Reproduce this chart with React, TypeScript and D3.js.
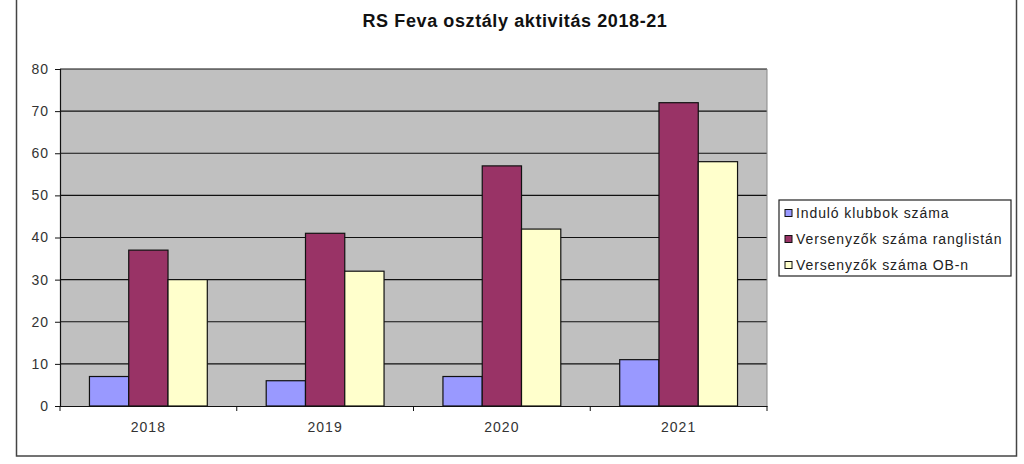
import React, { useRef, useEffect } from 'react';
import * as d3 from 'd3';

const years = ['2018', '2019', '2020', '2021'];
const seriesNames = ['Induló klubbok száma', 'Versenyzők száma ranglistán', 'Versenyzők száma OB-n'];
const klubbok = [7, 6, 7, 11];
const ranglista = [37, 41, 57, 72];
const obn = [30, 32, 42, 58];
const yTicks = [0, 10, 20, 30, 40, 50, 60, 70, 80];
const colors = ['#9999FF', '#993366', '#FFFFCC'];

const App = () => {
  const svgRef = useRef<SVGSVGElement>(null);

  useEffect(() => {
    const svg = d3.select(svgRef.current);
    svg.selectAll('*').remove();
    const font = 'Liberation Sans, Arial, sans-serif';
    const values = [klubbok, ranglista, obn];

    // outer frame
    svg.append('rect')
      .attr('x', 16.5).attr('y', -10).attr('width', 1000).attr('height', 466)
      .attr('fill', 'white').attr('stroke', '#444').attr('stroke-width', 1.5);

    svg.append('text')
      .attr('x', 515).attr('y', 27)
      .attr('text-anchor', 'middle')
      .attr('font-family', font).attr('font-weight', 'bold').attr('font-size', 18)
      .attr('letter-spacing', 0.6)
      .attr('fill', '#111')
      .text('RS Feva osztály aktivitás 2018-21');

    const left = 60, right = 767, top = 69, bottom = 406;
    const y = d3.scaleLinear().domain([0, 80]).range([bottom, top]);
    const x0 = d3.scaleBand().domain(years).range([left, right]).paddingInner(0).paddingOuter(0);
    const x1 = d3.scaleBand().domain(['0', '1', '2'])
      .range([0, x0.bandwidth()]).paddingInner(0).paddingOuter(0.75);

    svg.append('rect')
      .attr('x', left).attr('y', top).attr('width', right - left).attr('height', bottom - top)
      .attr('fill', '#C0C0C0');

    svg.append('g').selectAll('line')
      .data(yTicks.filter(d => d > 0))
      .join('line')
      .attr('x1', left).attr('x2', right)
      .attr('y1', d => y(d)).attr('y2', d => y(d))
      .attr('stroke', '#111').attr('stroke-width', 1.2);

    svg.append('line')
      .attr('x1', right).attr('x2', right).attr('y1', top).attr('y2', bottom)
      .attr('stroke', '#888').attr('stroke-width', 1);

    const groups = svg.append('g').selectAll('g')
      .data(years)
      .join('g')
      .attr('transform', d => `translate(${x0(d)},0)`);

    groups.selectAll('rect')
      .data((d, i) => values.map((s, k) => ({ k, v: s[i] })))
      .join('rect')
      .attr('x', d => x1(String(d.k)))
      .attr('y', d => y(d.v))
      .attr('width', x1.bandwidth())
      .attr('height', d => bottom - y(d.v))
      .attr('fill', d => colors[d.k])
      .attr('stroke', '#111').attr('stroke-width', 1.2);

    const yAxis = svg.append('g')
      .attr('transform', `translate(${left},0)`)
      .call(d3.axisLeft(y).tickValues(yTicks).tickSize(5).tickPadding(6));
    yAxis.select('.domain').attr('stroke', '#111').attr('stroke-width', 1.2);
    yAxis.selectAll('line').attr('stroke', '#111');
    yAxis.selectAll('text').attr('font-family', font).attr('font-size', 14)
      .attr('letter-spacing', 1).attr('fill', '#333');

    const xAxis = svg.append('g')
      .attr('transform', `translate(0,${bottom})`)
      .call(d3.axisBottom(x0).tickSize(0).tickPadding(16));
    xAxis.select('.domain').attr('stroke', '#111').attr('stroke-width', 1.2);
    xAxis.selectAll('text').attr('font-family', font).attr('font-size', 14)
      .attr('letter-spacing', 1).attr('fill', '#333');
    xAxis.selectAll('.sep')
      .data(d3.range(years.length + 1))
      .join('line')
      .attr('class', 'sep')
      .attr('x1', i => left + i * x0.step()).attr('x2', i => left + i * x0.step())
      .attr('y1', 0).attr('y2', 5)
      .attr('stroke', '#111');

    // legend
    const lg = svg.append('g').attr('transform', 'translate(779,200)');
    lg.append('rect')
      .attr('width', 232).attr('height', 76)
      .attr('fill', 'white').attr('stroke', '#222').attr('stroke-width', 1.2);
    const items = lg.selectAll('g.item')
      .data(seriesNames)
      .join('g')
      .attr('class', 'item')
      .attr('transform', (d, i) => `translate(6,${13 + i * 26})`);
    items.append('rect')
      .attr('x', 0).attr('y', -3.5).attr('width', 7).attr('height', 7)
      .attr('fill', (d, i) => colors[i]).attr('stroke', '#111').attr('stroke-width', 1);
    items.append('text')
      .attr('x', 11).attr('y', 4.5)
      .attr('font-family', font).attr('font-size', 14).attr('letter-spacing', 0.9)
      .attr('fill', '#222')
      .text(d => d);
  }, []);

  return (
    <svg ref={svgRef} width={1024} height={464}
      style={{ position: 'absolute', left: 0, top: 0, background: 'white' }} />
  );
};

export default App;
